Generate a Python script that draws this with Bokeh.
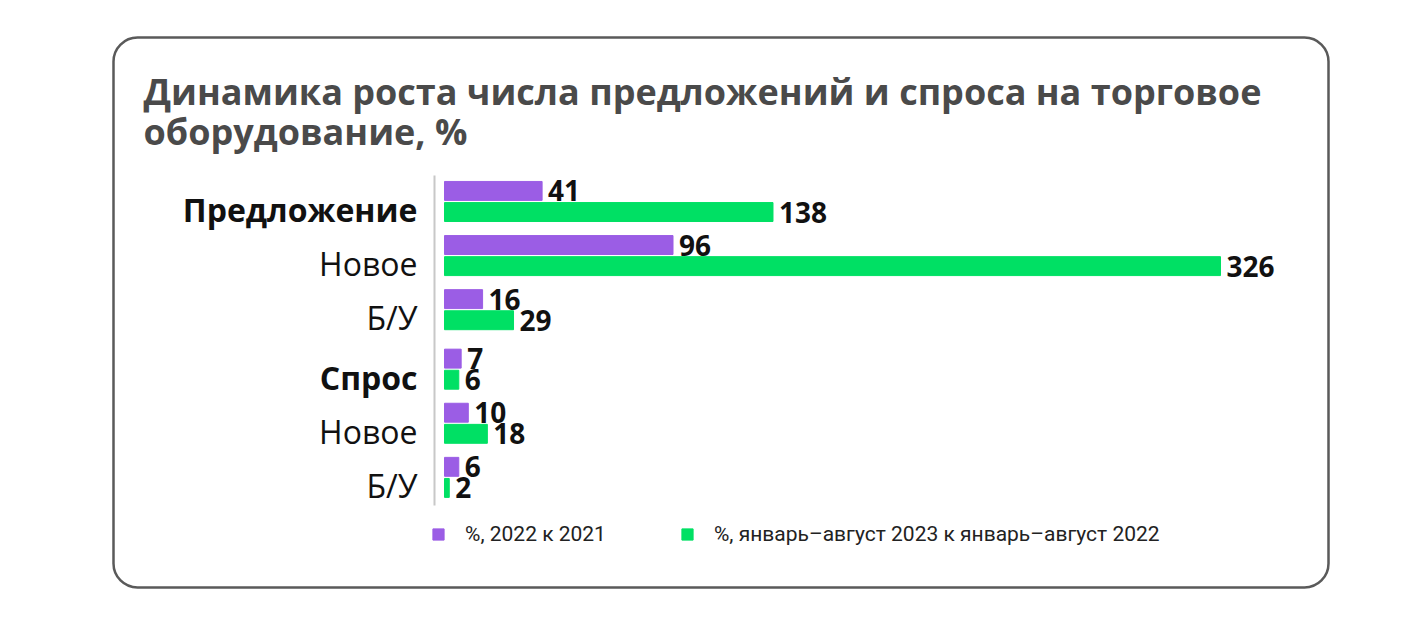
from bokeh.plotting import figure
from bokeh.models import (ColumnDataSource, FactorRange, LabelSet, Label, BoxAnnotation,
                          Legend, LegendItem, Range1d)
from bokeh.transform import dodge
from bokeh.core.properties import value
from bokeh.embed import file_html
from bokeh.resources import INLINE

# ---- data ----
groups = ["Предложение", "Предложение", "Предложение", "Спрос", "Спрос", "Спрос"]
categories = ["Предложение", "Новое", "Б/У", "Спрос", "Новое", "Б/У"]
label_styles = ["bold", "normal", "normal", "bold", "normal", "normal"]
series_2022 = [41, 96, 16, 7, 10, 6]
series_2023 = [138, 326, 29, 6, 18, 2]
series_names = ["%, 2022 к 2021", "%, январь–август 2023 к январь–август 2022"]
title_lines = ["Динамика роста числа предложений и спроса на торговое",
               "оборудование, %"]

PURPLE = "#9b5de5"
GREEN = "#00e064"
W, HGT = 1426, 627

factors = list(zip(groups, categories))
src = ColumnDataSource(data=dict(
    y=factors,
    cat=categories,
    style=label_styles,
    v22=series_2022,
    v23=series_2023,
    t22=[str(v) for v in series_2022],
    t23=[str(v) for v in series_2023],
))

y_range = FactorRange(factors=list(reversed(factors)), factor_padding=0.0,
                      group_padding=0.1, range_padding=0.9)

# horizontal scale: value 0 at 444 px, 326 units across 776 px
K = 776 / 326
x_range = Range1d(-444 / K, (W - 444) / K)

p = figure(width=W, height=HGT, y_range=y_range, x_range=x_range,
           output_backend="svg", toolbar_location=None,
           min_border=0, min_border_left=0, min_border_right=0,
           min_border_top=0, min_border_bottom=0)
p.outline_line_color = None
p.background_fill_color = "white"
p.border_fill_color = "white"
p.xgrid.visible = False
p.ygrid.visible = False
p.xaxis.visible = False
p.yaxis.visible = False

SHIFT = -0.47
OFF = 0.195
H = 0.35

# card border
p.add_layout(BoxAnnotation(left=113, right=1328, top=HGT - 37, bottom=HGT - 587,
                           left_units="screen", right_units="screen",
                           top_units="screen", bottom_units="screen",
                           fill_alpha=0, line_color="#5a5a5a", line_alpha=1.0,
                           line_width=2.5, border_radius=24, level="underlay"))

# vertical axis line
line_src = ColumnDataSource(data=dict(x=[-10 / K], y0=[factors[0]], y1=[factors[-1]]))
p.segment(x0="x", x1="x", y0=dodge("y0", SHIFT + 0.48, range=y_range),
          y1=dodge("y1", SHIFT - 0.52, range=y_range), source=line_src,
          line_color="#c8c8c8", line_width=2)

r22 = p.hbar(y=dodge("y", SHIFT + OFF, range=y_range), left=0, right="v22", height=H,
             color=PURPLE, source=src)
r23 = p.hbar(y=dodge("y", SHIFT - OFF, range=y_range), left=0, right="v23", height=H,
             color=GREEN, source=src)

num_font = value("Open Sans")
p.add_layout(LabelSet(x="v22", y=dodge("y", SHIFT + OFF, range=y_range), text="t22",
                      source=src, x_offset=6, text_baseline="middle", text_font=num_font,
                      text_font_style="bold", text_font_size="28px", text_color="#111111"))
p.add_layout(LabelSet(x="v23", y=dodge("y", SHIFT - OFF, range=y_range), text="t23",
                      source=src, x_offset=6, text_baseline="middle", text_font=num_font,
                      text_font_style="bold", text_font_size="28px", text_color="#111111"))

# category labels
p.add_layout(LabelSet(x=0, y=dodge("y", SHIFT, range=y_range), text="cat", source=src,
                      x_offset=-27, y_offset=-8, text_align="right", text_baseline="middle",
                      text_font=value("Open Sans"), text_font_style="style",
                      text_font_size="32px", text_color="#111111"))

# title (two lines)
for i, line in enumerate(title_lines):
    p.add_layout(Label(x=143, y=HGT - 91 - 40 * i, x_units="screen", y_units="screen",
                       text=line, text_baseline="alphabetic", text_font="Open Sans",
                       text_font_style="bold", text_font_size="36px",
                       text_color="#4a4a4a"))

legend = Legend(items=[LegendItem(label=series_names[0], renderers=[r22]),
                       LegendItem(label=series_names[1], renderers=[r23])],
                orientation="horizontal", location=(431, HGT - 546),
                glyph_width=14, glyph_height=14, label_standoff=20, spacing=74,
                padding=0, margin=0, border_line_color=None, background_fill_alpha=0,
                label_text_font="Roboto", label_text_font_size="21px",
                label_text_color="#222222", label_height=14)
p.add_layout(legend, "center")

open("out.html", "w").write(file_html(p, INLINE))
